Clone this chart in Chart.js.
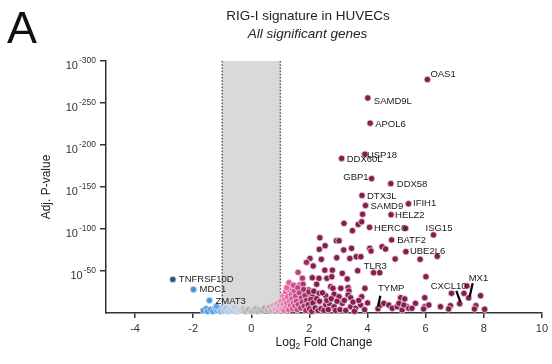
<!DOCTYPE html>
<html>
<head>
<meta charset="utf-8">
<script src="https://cdn.jsdelivr.net/npm/chart.js@4"></script>
<style>
  html, body { margin: 0; padding: 0; background: #fff; }
  #wrap { width: 552px; height: 364px; }
</style>
</head>
<body>
<div id="wrap"><canvas id="volcano" width="552" height="364"></canvas></div>
<script>
// Axis ticks
const xTicks = [-4, -2, 0, 2, 4, 6, 8, 10];
const yTicks = [50, 100, 150, 200, 250, 300];

// Named genes: log2 fold change and -log10(adjusted p)
const labeledGenes = ['OAS1','SAMD9L','APOL6','USP18','DDX60L','GBP1','DDX58','DTX3L','SAMD9','IFIH1','HELZ2','HERC6','ISG15','BATF2','UBE2L6','TLR3','TYMP','CXCL10','MX1','TNFRSF10D','MDC1','ZMAT3'];
const labeledLog2FC = [6.06, 4.01, 4.09, 3.91, 3.11, 4.14, 4.80, 3.81, 3.93, 5.41, 4.81, 4.07, 6.27, 4.83, 5.32, 4.21, 4.36, 7.17, 7.48, -2.70, -1.99, -1.44];
const labeledNegLog10P = [278, 256, 226, 189, 184, 160, 154, 140, 128, 130, 117, 102, 93, 87, 73, 48, 5, 11, 18, 40, 28, 15];

// Remaining significant genes
const otherLog2FC = [
  3.83, 3.19, 3.68, 3.80, 3.48, 5.31, 2.36,
  2.93, 3.02, 2.34, 2.54, 3.18, 3.45, 4.08, 4.12, 4.50, 4.62, 4.95, 2.02, 2.41, 2.94, 3.39, 3.61, 3.77,
  1.90, 2.13, 2.53, 2.79, 1.61, 3.66, 4.42, 1.76, 2.10, 2.33, 2.60, 2.77, 3.13, 3.30,
  1.67, 1.78, 1.97, 2.25, 2.73, 2.81, 3.08, 3.33, 3.36, 3.91,
  1.99, 2.10, 2.33, 2.56, 2.85, 3.02, 3.33, 3.42, 3.80, 1.59, 1.68,
  1.76, 1.93, 2.10, 2.33, 2.56, 2.68, 2.85, 3.13, 3.42, 3.59, 3.76, 4.45, 4.56, 4.73, 4.85, 5.02, 5.19, 5.36,
  5.81, 6.40, 6.01, 7.42, 6.89, 7.32, 7.89, 5.97, 5.14, 5.28, 5.65, 5.08, 5.25, 5.42, 5.53, 5.97, 6.11, 5.93, 6.51, 6.85, 6.79, 7.73, 7.68, 8.03,
  -1.65, -1.55, -1.50, -1.40, -1.32, -1.25, -1.18, -1.10, -1.05, -1.20,
  -0.95, -0.88, -0.80, -0.72, -0.65, -0.58, -0.50, -0.45,
  -0.35, -0.28, -0.20, -0.10, 0.00, 0.08, 0.15, 0.22, 0.30, 0.38, 0.45,
  0.55, 0.62, 0.70, 0.75, 0.82, 0.88, 0.92, 0.97,
  1.02, 1.05, 1.08, 1.10, 1.12, 1.15, 1.18, 1.20, 1.22, 1.25, 1.28, 1.30, 1.32, 1.35, 1.38, 1.40, 1.42, 1.45, 1.48, 1.50, 1.30, 1.45, 1.22,
  1.52, 1.55, 1.58, 1.60, 1.62, 1.65, 1.70, 1.72, 1.75, 1.80, 1.82, 1.85, 1.88, 1.90, 1.95, 1.98, 2.00, 2.05, 2.08, 2.12, 2.15, 2.20, 2.25, 2.30, 2.35, 2.40, 2.45, 2.50, 2.60, 2.65, 2.75, 2.90, 2.95, 3.05, 3.20, 3.25, 3.50, 3.55, 3.70, 3.90, 4.00
];
const otherNegLog10P = [
  117.5, 106.7, 105.5, 108.6, 98, 100.8, 89.6,
  86, 86, 75.8, 80, 75, 77, 77, 73.8, 78.9, 76.2, 64.3, 65, 63.9, 65.8, 65, 67, 67,
  60.3, 56, 51, 51, 48.4, 50.3, 48, 41.3, 42, 41.3, 41.3, 43.2, 47.2, 40.5,
  33.3, 34.2, 27.4, 34.2, 31.3, 29.4, 29.4, 30.1, 26.2, 29.4,
  21.4, 19.4, 23.4, 20.6, 22.3, 19.4, 21.4, 18.2, 19.4, 21.4, 17.5,
  13.4, 11.5, 9.5, 13.4, 9.5, 11.5, 7.5, 11.5, 7.5, 5.6, 9.5, 9.5, 11.5, 9.5, 5.6, 7.5, 3.6, 7.5,
  63.9, 67.5, 43.2, 32.1, 23.4, 23.4, 20.6, 18.2, 18.2, 16.7, 11.5, 11.5, 9.5, 5.6, 5.6, 7.5, 9.5, 4.8, 7.5, 8.7, 4.8, 8.7, 4.8, 4.4,
  3, 5, 2, 4, 2, 6, 3, 5, 2, 8,
  3, 5, 2, 4, 3, 6, 2, 4,
  3, 5, 2, 4, 2, 3, 5, 2, 4, 3, 6,
  4, 7, 3, 9, 5, 11, 3, 8,
  14, 5, 20, 10, 3, 16, 25, 8, 12, 19, 4, 28, 14, 9, 22, 17, 5, 12, 26, 8, 36, 33, 30,
  20, 14, 4, 30, 10, 24, 6, 18, 13, 28, 8, 21, 3, 15, 10, 25, 5, 16, 2, 12, 26, 6, 17, 3, 14, 5, 24, 3, 15, 4, 17, 3, 14, 4, 15, 3, 13, 2, 15, 4, 12
];

// Label placement (pixel offsets from each named point)
const labelLayout = {
  OAS1: { dx: 3, dy: -5 },
  SAMD9L: { dx: 6, dy: 3 },
  APOL6: { dx: 5, dy: 1.5 },
  USP18: { dx: 2, dy: 1 },
  DDX60L: { dx: 5, dy: 1 },
  GBP1: { dx: -3, dy: -1, align: 'right' },
  DDX58: { dx: 6, dy: 1 },
  DTX3L: { dx: 5, dy: 1 },
  SAMD9: { dx: 5, dy: 1 },
  IFIH1: { dx: 4.5, dy: 0 },
  HELZ2: { dx: 4, dy: 0.5 },
  HERC6: { dx: 4.5, dy: 1.5 },
  ISG15: { dx: -8, dy: -7 },
  BATF2: { dx: 5.5, dy: 0.7 },
  UBE2L6: { dx: 4, dy: -0.5 },
  TLR3: { dx: -10, dy: -6 },
  TYMP: { dx: 0, dy: -20, leader: [0, -2, 2.3, -13] },
  CXCL10: { dx: -29, dy: -17, leader: [0.7, -1.8, -3.3, -13] },
  MX1: { dx: 0, dy: -20, leader: [1, -1.2, 4, -14.6] },
  TNFRSF10D: { dx: 6, dy: 0 },
  MDC1: { dx: 6, dy: 0 },
  ZMAT3: { dx: 6, dy: 0.5 }
};

const FONT = "'Liberation Sans', Arial, Helvetica, sans-serif";

// Fold-change colour ramp: blue (down) -> grey -> pink -> maroon (up)
const colorStops = [
  [-2.7, [35, 88, 140]],
  [-2.1, [58, 150, 228]],
  [-1.3, [62, 158, 238]],
  [-0.9, [150, 200, 236]],
  [-0.4, [185, 210, 228]],
  [-0.15, [175, 175, 175]],
  [0.45, [170, 170, 170]],
  [0.85, [222, 165, 195]],
  [1.2, [240, 100, 165]],
  [1.6, [200, 66, 130]],
  [2.1, [136, 28, 78]]
];
function fcColor(fc) {
  if (fc <= colorStops[0][0]) return 'rgb(' + colorStops[0][1].join(',') + ')';
  for (let i = 1; i < colorStops.length; i++) {
    const [x1, c1] = colorStops[i];
    const [x0, c0] = colorStops[i - 1];
    if (fc <= x1) {
      const t = (fc - x0) / (x1 - x0);
      const c = c0.map((v, k) => Math.round(v + (c1[k] - v) * t));
      return 'rgb(' + c.join(',') + ')';
    }
  }
  return 'rgb(' + colorStops[colorStops.length - 1][1].join(',') + ')';
}

const otherPoints = otherLog2FC.map((x, i) => ({ x, y: otherNegLog10P[i] }));
const namedPoints = labeledLog2FC.map((x, i) => ({ x, y: labeledNegLog10P[i], gene: labeledGenes[i] }));

// Shaded |log2FC| < 1 band with dotted edges
const bandPlugin = {
  id: 'band',
  beforeDraw(chart) {
    const { ctx, scales: { x, y } } = chart;
    const x0 = x.getPixelForValue(-1), x1 = x.getPixelForValue(1);
    const top = y.getPixelForValue(300), bottom = y.getPixelForValue(0);
    ctx.save();
    ctx.fillStyle = '#d9d9d9';
    ctx.fillRect(x0, top, x1 - x0, bottom - top - 1);
    ctx.strokeStyle = '#555';
    ctx.lineWidth = 1.4;
    ctx.setLineDash([1.6, 1.6]);
    [x0, x1].forEach(px => {
      ctx.beginPath();
      ctx.moveTo(px, top);
      ctx.lineTo(px, bottom);
      ctx.stroke();
    });
    ctx.restore();
  }
};

// Titles, y tick labels with exponents, axis titles, gene labels
const textPlugin = {
  id: 'texts',
  afterDatasetsDraw(chart) {
    const { ctx, scales: { x, y } } = chart;
    ctx.save();
    ctx.fillStyle = '#111';

    // Panel letter
    ctx.font = '45px ' + FONT;
    ctx.textAlign = 'left';
    ctx.textBaseline = 'alphabetic';
    ctx.fillText('A', 7, 43);

    // Title and subtitle
    ctx.fillStyle = '#222';
    ctx.textAlign = 'center';
    ctx.textBaseline = 'middle';
    ctx.font = '13.5px ' + FONT;
    ctx.fillText('RIG-I signature in HUVECs', 308, 16.5);
    ctx.font = 'italic 13.5px ' + FONT;
    ctx.fillText('All significant genes', 307.5, 34.5);

    // Y tick labels: 10^-N
    yTicks.forEach(v => {
      const py = y.getPixelForValue(v);
      const exp = '-' + v;
      ctx.font = '8.5px ' + FONT;
      const ew = ctx.measureText(exp).width;
      ctx.font = '11px ' + FONT;
      const bw = ctx.measureText('10').width;
      const right = y.right - 10;
      ctx.textAlign = 'left';
      ctx.textBaseline = 'alphabetic';
      ctx.fillStyle = '#333';
      ctx.fillText('10', right - ew - bw - 1, py + 7.5);
      ctx.font = '8.5px ' + FONT;
      ctx.fillText(exp, right - ew, py + 1.5);
    });

    // Y axis title
    ctx.save();
    ctx.translate(47, (y.top + y.bottom) / 2);
    ctx.rotate(-Math.PI / 2);
    ctx.font = '12px ' + FONT;
    ctx.textAlign = 'center';
    ctx.textBaseline = 'middle';
    ctx.fillStyle = '#222';
    ctx.fillText('Adj. P-value', 0, 0);
    ctx.restore();

    // X axis title with subscript
    const cx = (x.left + x.right) / 2;
    ctx.font = '12px ' + FONT;
    const p1 = 'Log', p3 = ' Fold Change';
    const w1 = ctx.measureText(p1).width, w3 = ctx.measureText(p3).width;
    ctx.font = '8.5px ' + FONT;
    const w2 = ctx.measureText('2').width;
    let sx = cx - (w1 + w2 + w3) / 2;
    const base = 346;
    ctx.textAlign = 'left';
    ctx.textBaseline = 'alphabetic';
    ctx.fillStyle = '#222';
    ctx.font = '12px ' + FONT;
    ctx.fillText(p1, sx, base);
    ctx.font = '8.5px ' + FONT;
    ctx.fillText('2', sx + w1, base + 3);
    ctx.font = '12px ' + FONT;
    ctx.fillText(p3, sx + w1 + w2, base);

    // Gene labels and leader lines
    ctx.font = '9.5px ' + FONT;
    ctx.textBaseline = 'middle';
    namedPoints.forEach(p => {
      const L = labelLayout[p.gene] || { dx: 5, dy: 0 };
      const px = x.getPixelForValue(p.x), py = y.getPixelForValue(p.y);
      if (L.leader) {
        ctx.strokeStyle = '#000';
        ctx.lineWidth = 2.2;
        ctx.beginPath();
        ctx.moveTo(px + L.leader[0], py + L.leader[1]);
        ctx.lineTo(px + L.leader[2], py + L.leader[3]);
        ctx.stroke();
      }
      ctx.fillStyle = '#1a1a1a';
      ctx.textAlign = L.align || 'left';
      ctx.fillText(p.gene, px + L.dx, py + L.dy);
    });
    ctx.restore();
  }
};

const pointStyle = {
  pointRadius: 3.2,
  pointHoverRadius: 3.2,
  pointBorderWidth: 0.9,
  pointBorderColor: 'rgba(232,220,228,0.9)',
  pointBackgroundColor: ctx => fcColor(ctx.raw ? ctx.raw.x : 0)
};

new Chart(document.getElementById('volcano'), {
  type: 'scatter',
  data: {
    datasets: [
      Object.assign({ label: 'genes', data: otherPoints, clip: false }, pointStyle),
      Object.assign({ label: 'named genes', data: namedPoints, clip: false }, pointStyle)
    ]
  },
  options: {
    responsive: false,
    animation: false,
    devicePixelRatio: 1,
    layout: { padding: { top: 61, right: 8, left: 0, bottom: 0 } },
    plugins: { legend: { display: false }, tooltip: { enabled: false } },
    scales: {
      x: {
        type: 'linear',
        min: -5,
        max: 10,
        afterBuildTicks: s => { s.ticks = xTicks.map(v => ({ value: v })); },
        afterFit: s => { s.height = 51; },
        ticks: { color: '#333', font: { size: 11, family: FONT }, padding: 4, maxRotation: 0 },
        grid: { display: true, drawOnChartArea: false, drawTicks: true, tickLength: 5, color: '#333', lineWidth: 1.5 },
        border: { display: true, color: '#333', width: 1.5 }
      },
      y: {
        type: 'linear',
        min: 0,
        max: 300,
        afterBuildTicks: s => { s.ticks = yTicks.map(v => ({ value: v })); },
        afterFit: s => { s.width = 106; },
        ticks: { callback: () => '', padding: 0 },
        grid: { display: true, drawOnChartArea: false, drawTicks: true, tickLength: 6, color: '#333', lineWidth: 1.5 },
        border: { display: true, color: '#333', width: 1.5 }
      }
    }
  },
  plugins: [bandPlugin, textPlugin]
});
</script>
</body>
</html>
